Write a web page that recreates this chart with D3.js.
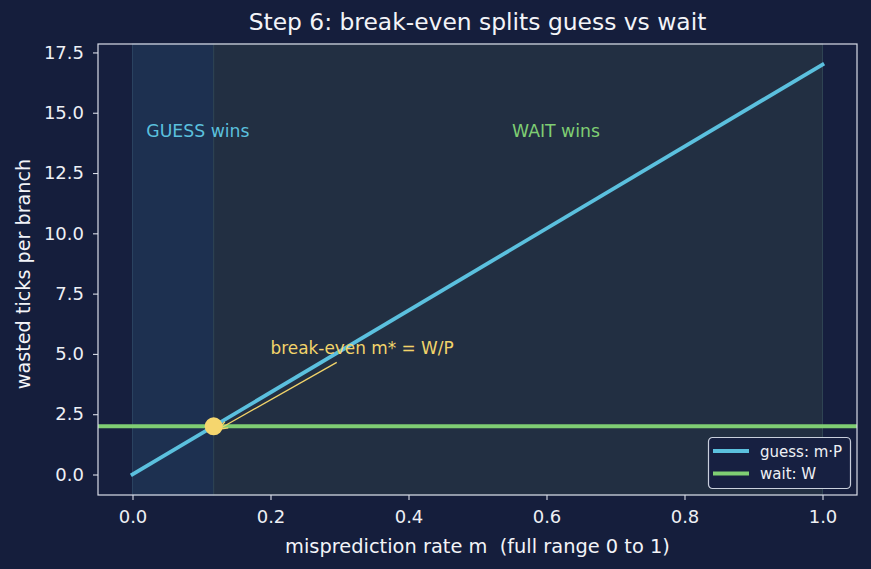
<!DOCTYPE html>
<html><head><meta charset="utf-8">
<script src="https://cdn.jsdelivr.net/npm/d3@7"></script>
<style>body{margin:0;background:#151e3c;}svg{display:block;}text{font-family:"DejaVu Sans",sans-serif;white-space:pre;}</style>
</head><body><svg id="c" width="871" height="569"></svg>
<script>
const P = 17, W = 2;
const mDomain = [-0.05, 1.05];
const yDomain = [-0.85, 17.85];
const xTicks = [0.0, 0.2, 0.4, 0.6, 0.8, 1.0];
const yTicks = [0.0, 2.5, 5.0, 7.5, 10.0, 12.5, 15.0, 17.5];
const guessM = [0, 1];
const guessVals = [0, 17];
const breakEven = W / P;
const regionLabels = [{t:"GUESS wins", m:0.02, y:14, c:"#5bc0de"},{t:"WAIT wins", m:0.55, y:14, c:"#7fce73"}];
const legendItems = [{t:"guess: m·P", c:"#5bc0de"},{t:"wait: W", c:"#7fce73"}];

const svg = d3.select("#c");
const L=98, R=857, T=44, B=495;
const x = d3.scaleLinear().domain(mDomain).range([L,R]);
const y = d3.scaleLinear().domain(yDomain).range([B,T]);
const axisCol = "#d9dde8";

svg.append("rect").attr("width",871).attr("height",569).attr("fill","#151e3c");
svg.append("rect").attr("x",L).attr("y",T).attr("width",R-L).attr("height",B-T).attr("fill","#161f3e");

// regions
svg.append("rect").attr("x",x(0)).attr("y",T).attr("width",x(breakEven)-x(0)).attr("height",B-T)
  .attr("fill","#1d3050").attr("stroke","#2a4260").attr("stroke-width",1);
svg.append("rect").attr("x",x(breakEven)).attr("y",T).attr("width",x(1)-x(breakEven)).attr("height",B-T)
  .attr("fill","#222f42").attr("stroke","#2f4453").attr("stroke-width",1);

// lines
svg.append("line").attr("x1",L).attr("x2",R).attr("y1",y(W)).attr("y2",y(W)).attr("stroke","#7fce73").attr("stroke-width",3.8);
svg.append("line").attr("x1",x(guessM[0])).attr("x2",x(guessM[1])).attr("y1",y(guessVals[0])).attr("y2",y(guessVals[1]))
  .attr("stroke","#5bc0de").attr("stroke-width",3.8).attr("stroke-linecap","square");

// region labels
regionLabels.forEach(d=>{
  svg.append("text").attr("x",x(d.m)).attr("y",y(d.y)).attr("fill",d.c).attr("font-size",17.3).text(d.t);
});

// annotation arrow
const a0=[x(0.296),y(4.65)], a1=[x(breakEven)+5,y(W)+3];
svg.append("line").attr("x1",a0[0]).attr("y1",a0[1]).attr("x2",a1[0]).attr("y2",a1[1]).attr("stroke","#f2d46a").attr("stroke-width",1.3);
const ang=Math.atan2(a1[1]-a0[1],a1[0]-a0[0]);
const hl=9, hw=3.5;
const p1=[a1[0]-hl*Math.cos(ang)+hw*Math.sin(ang), a1[1]-hl*Math.sin(ang)-hw*Math.cos(ang)];
const p2=[a1[0]-hl*Math.cos(ang)-hw*Math.sin(ang), a1[1]-hl*Math.sin(ang)+hw*Math.cos(ang)];
svg.append("path").attr("d",`M${a1[0]},${a1[1]}L${p1[0]},${p1[1]}M${a1[0]},${a1[1]}L${p2[0]},${p2[1]}`).attr("stroke","#f2d46a").attr("stroke-width",1.3).attr("fill","none");
svg.append("text").attr("x",x(0.2)).attr("y",y(5.0)).attr("fill","#f2d46a").attr("font-size",16.9).text("break-even m* = W/P");

// point
svg.append("circle").attr("cx",x(breakEven)).attr("cy",y(W)).attr("r",9).attr("fill","#f5d66e");

// axes frame
svg.append("rect").attr("x",L).attr("y",T).attr("width",R-L).attr("height",B-T).attr("fill","none").attr("stroke",axisCol).attr("stroke-width",1.2);

const xa = svg.append("g").attr("transform",`translate(0,${B})`)
  .call(d3.axisBottom(x).tickValues(xTicks).tickFormat(d3.format(".1f")).tickSize(5).tickPadding(10));
const ya = svg.append("g").attr("transform",`translate(${L},0)`)
  .call(d3.axisLeft(y).tickValues(yTicks).tickFormat(d3.format(".1f")).tickSize(5).tickPadding(9));
[xa,ya].forEach(g=>{
  g.select(".domain").remove();
  g.selectAll("line").attr("stroke",axisCol).attr("stroke-width",1.1);
  g.selectAll("text").attr("fill","#eef0f5").attr("font-size",18).attr("font-family","DejaVu Sans");
});

svg.append("text").attr("x",(L+R)/2).attr("y",30).attr("text-anchor","middle").attr("fill","#f3f4f8").attr("font-size",23.4).text("Step 6: break-even splits guess vs wait");
svg.append("text").attr("x",(L+R)/2).attr("y",553).attr("text-anchor","middle").attr("fill","#f3f4f8").attr("font-size",19.4).text("misprediction rate m  (full range 0 to 1)");
svg.append("text").attr("transform",`translate(30,274) rotate(-90)`).attr("text-anchor","middle").attr("fill","#f3f4f8").attr("font-size",19.2).text("wasted ticks per branch");

// legend
const lg = svg.append("g").attr("transform","translate(708.5,437.5)");
lg.append("rect").attr("width",142).attr("height",51).attr("rx",4).attr("fill","#172041").attr("stroke","#c9cfdc").attr("stroke-width",1.2);
legendItems.forEach((d,i)=>{
  lg.append("line").attr("x1",4.5).attr("x2",40.5).attr("y1",13.5+i*22.5).attr("y2",13.5+i*22.5).attr("stroke",d.c).attr("stroke-width",3.8);
  lg.append("text").attr("x",51.5).attr("y",19+i*22).attr("fill","#eef0f5").attr("font-size",15).text(d.t);
});
</script></body></html>
